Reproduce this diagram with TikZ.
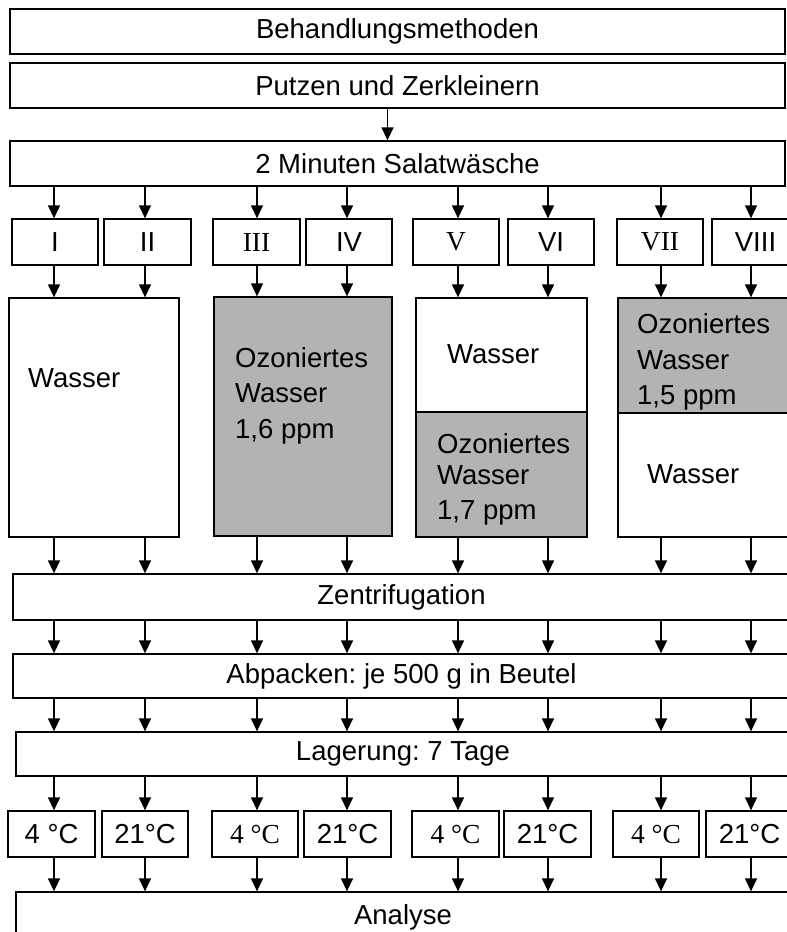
\documentclass[tikz,border=0pt]{standalone}
\usepackage{fontspec}
\setmainfont{Liberation Sans}
\newfontfamily\seriffont{Liberation Serif}
\usetikzlibrary{arrows.meta}
\definecolor{boxgray}{RGB}{179,179,179}
\frenchspacing
\newcommand\rbox[6][]{\node[box,#1,minimum width={(#5)-(#3)},minimum height={(#6)-(#4)}] (#2) at ({((#3)+(#5))/2},{((#4)+(#6))/2}) {};}
\begin{document}
\begin{tikzpicture}[x=1pt,y=-1pt,
  box/.style={draw=black, line width=1.3pt, inner sep=0pt, font=\fontsize{27.5}{33}\selectfont},
  gbox/.style={box, fill=boxgray},
  wbox/.style={box, fill=white},
  arr/.style={line width=1.3pt, -{Triangle[width=12pt,length=13pt]}},
  lbl/.style={inner sep=0pt, anchor=base west, font=\fontsize{27.5}{33}\selectfont},
  ctr/.style={inner sep=0pt, font=\fontsize{27.5}{33}\selectfont}]
\useasboundingbox (0,0) rectangle (787,932);
\clip (0,0) rectangle (787,932);
% top boxes
\rbox{top}{10}{9}{785}{54}
\rbox{putz}{10}{63}{785}{108}
\rbox{wash}{10}{141}{785}{186}
\node[ctr] at (top.center) {Behandlungsmethoden};
\node[ctr] at (putz.center) {Putzen und Zerkleinern};
\node[ctr] at (wash.center) {2 Minuten Salatwäsche};
\draw[arr] ([xshift=-10pt]putz.south) -- ([xshift=-10pt]wash.north);
% columns
\foreach \i/\x in {1/54,2/145,3/257,4/347,5/458,6/548,7/661,8/751}
  \coordinate (c\i) at (\x,0);
% roman boxes
\rbox{r1}{12}{219}{98}{265}
\rbox{r2}{104}{219}{191}{265}
\rbox{r3}{213}{219}{300}{265}
\rbox{r4}{306}{219}{392}{265}
\rbox{r5}{413}{219}{499}{265}
\rbox{r6}{508}{219}{594}{265}
\rbox{r7}{617}{219}{703}{265}
\rbox{r8}{712}{219}{799}{265}
\node[ctr] at (r1.center) {I};
\node[ctr] at (r2.center) {II};
\node[ctr] at (r3.center) {\seriffont III};
\node[ctr] at (r4.center) {IV};
\node[ctr] at (r5.center) {\seriffont V};
\node[ctr] at (r6.center) {VI};
\node[ctr] at (r7.center) {\seriffont VII};
\node[ctr] at (r8.center) {VIII};
% big boxes
\rbox[wbox]{b1}{9}{298}{179}{537}
\rbox[gbox]{b2}{214}{297}{392}{536}
\rbox[wbox]{b3u}{416}{298}{587}{412}
\rbox[gbox]{b3l}{416}{412}{587}{537}
\rbox[gbox]{b4u}{618}{298}{800}{413}
\rbox[wbox]{b4l}{618}{413}{800}{537}
\node[lbl] at (28,387) {Wasser};
\node[lbl] at (235,367) {Ozoniertes};
\node[lbl] at (235,402) {Wasser};
\node[lbl] at (235,438) {1,6 ppm};
\node[lbl] at (447,363) {Wasser};
\node[lbl] at (437,453) {Ozoniertes};
\node[lbl] at (437,484) {Wasser};
\node[lbl] at (437,519) {1,7 ppm};
\node[lbl] at (637,333) {Ozoniertes};
\node[lbl] at (637,369) {Wasser};
\node[lbl] at (637,404) {1,5 ppm};
\node[lbl] at (647,483) {Wasser};
% process boxes
\rbox{zen}{13}{574}{790}{620}
\rbox{abp}{13}{654}{790}{698}
\rbox{lag}{16}{732}{790}{776}
\node[ctr] at (zen.center) {Zentrifugation};
\node[ctr] at (abp.center) {Abpacken: je 500 g in Beutel};
\node[ctr] at (lag.center) {Lagerung: 7 Tage};
% temperature boxes
\rbox{t1}{8}{811}{95}{857}
\rbox{t2}{102}{811}{188}{857}
\rbox{t3}{212}{811}{298}{857}
\rbox{t4}{304}{811}{391}{857}
\rbox{t5}{412}{811}{499}{857}
\rbox{t6}{504}{811}{591}{857}
\rbox{t7}{613}{811}{699}{857}
\rbox{t8}{706}{811}{793}{857}
\node[ctr] at (t1.center) {4 °C};
\node[ctr] at (t2.center) {21°C};
\node[ctr] at (t3.center) {\seriffont 4 °C};
\node[ctr] at (t4.center) {21°C};
\node[ctr] at (t5.center) {\seriffont 4 °C};
\node[ctr] at (t6.center) {21°C};
\node[ctr] at (t7.center) {\seriffont 4 °C};
\node[ctr] at (t8.center) {21°C};
\rbox{ana}{16}{892}{790}{940}
\node[ctr] at ([yshift=-1pt]ana.center) {Analyse};
% arrows
\foreach \i/\b/\c in {1/b1/b1,2/b1/b1,3/b2/b2,4/b2/b2,5/b3u/b3l,6/b3u/b3l,7/b4u/b4l,8/b4u/b4l} {
  \draw[arr] (c\i |- wash.south) -- (c\i |- r\i.north);
  \draw[arr] (c\i |- r\i.south) -- (c\i |- \b.north);
  \draw[arr] (c\i |- \c.south) -- (c\i |- zen.north);
  \draw[arr] (c\i |- zen.south) -- (c\i |- abp.north);
  \draw[arr] (c\i |- abp.south) -- (c\i |- lag.north);
  \draw[arr] (c\i |- lag.south) -- (c\i |- t\i.north);
  \draw[arr] (c\i |- t\i.south) -- (c\i |- ana.north);
}
\end{tikzpicture}
\end{document}
